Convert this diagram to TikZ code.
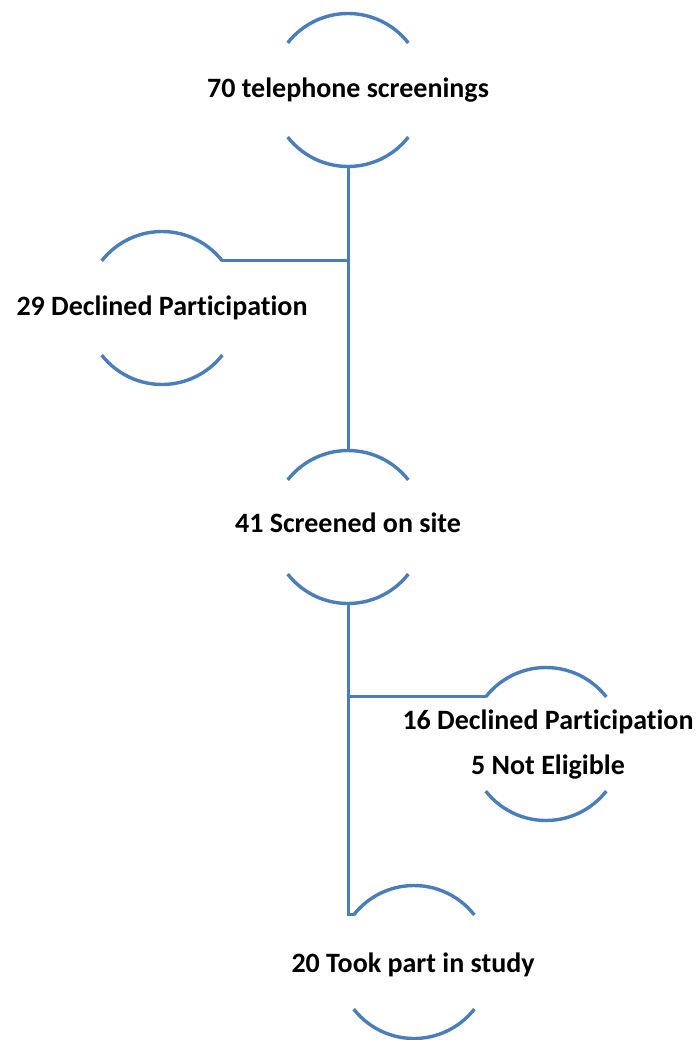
\documentclass[tikz,border=0pt]{standalone}
\usepackage{fontspec}
\setmainfont[Ligatures=NoCommon]{Carlito}
\definecolor{flowblue}{HTML}{4A7EBB}
\begin{document}
\begin{tikzpicture}[x=1pt,y=1pt,
  ring/.style={circle,minimum size=153pt,inner sep=0pt,outer sep=0pt},
  lbl/.style={font=\bfseries\fontsize{28}{45}\selectfont,align=center,inner sep=0pt,text=black},
  arcline/.style={draw=flowblue,line width=3.4pt},
  link/.style={draw=flowblue,line width=3pt}]
\useasboundingbox (0,0) rectangle (700,-1040);
\fill[white] (0,0) rectangle (700,-1040);

% invisible circles that carry the arcs
\node[ring] (tel)   at (348,-90)   {};
\node[ring] (dec1)  at (162,-308)  {};
\node[ring] (site)  at (348,-527)  {};
\node[ring] (dec2)  at (546,-744)  {};
\node[ring] (study) at (414,-962)  {};

% upper and lower arc of each circle
\foreach \n in {tel,dec1,site,dec2,study}{
  \draw[arcline] (\n.38) arc[start angle=38,end angle=142,radius=76.5];
  \draw[arcline] (\n.218) arc[start angle=218,end angle=322,radius=76.5];
}

% labels
\node[lbl] (telT)   at (348,-90)  {70 telephone screenings};
\node[lbl] (dec1T)  at (162,-308) {29 Declined Participation};
\node[lbl] (siteT)  at (348,-523) {41 Screened on site};
\node[lbl] (dec2T)  at (548,-745) {16 Declined Participation\\5 Not Eligible};
\node[lbl] (studyT) at (413,-965) {20 Took part in study};

% connectors
\draw[link] (tel.south) -- (site.north);
\draw[link] (dec1.38) -- (dec1.38 -| tel.south);
\draw[link] (site.south) |- (study.142);
\draw[link] (dec2.142 -| site.south) -- (dec2.142);
\end{tikzpicture}
\end{document}
